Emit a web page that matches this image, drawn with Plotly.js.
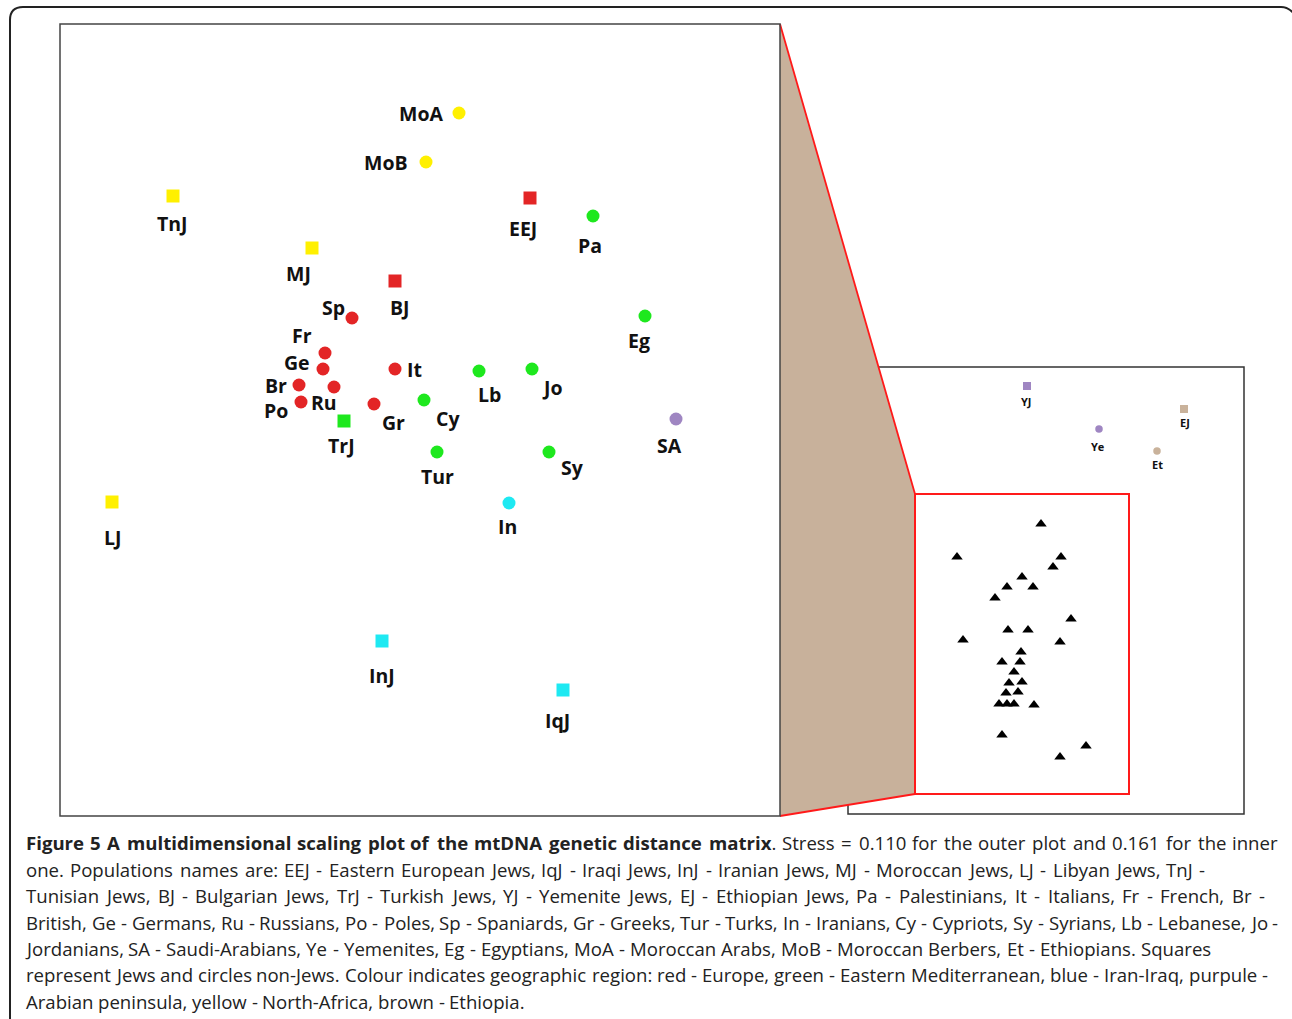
<!DOCTYPE html>
<html><head><meta charset="utf-8">
<script src="https://cdn.plot.ly/plotly-3.0.1.min.js"></script>
<style>html,body{margin:0;padding:0;background:#fff}#chart{width:1292px;height:1019px}</style>
</head><body><div id="chart"></div>
<svg id="meas" width="10" height="10" style="position:absolute;left:-2000px;top:0"><text id="mt" x="0" y="10" style="font-family:'Open Sans';white-space:pre"></text></svg>
<script>
// ---- Outer MDS plot (coordinates in plot units, y up) ----
const outerNames = ['MoA','MoB','TnJ','EEJ','Pa','MJ','BJ','Sp','Eg','Fr','Ge','It','Lb','Jo','Br','Ru','Po','Gr','Cy','TrJ','SA','Tur','Sy','In','LJ','InJ','IqJ'];
const outerX = [399,366,113,470,533,252,335,292,585,265,263,335,419,472,239,274,241,314,364,284,616,377,489,449,52,322,503];
const outerY = [703,654,620,618,600,568,535,498,500,463,447,447,445,447,431,429,414,412,416,395,397,364,364,313,314,175,126];
const outerRegion = ['NAfrica','NAfrica','NAfrica','Europe','EMed','NAfrica','Europe','Europe','EMed','Europe','Europe','Europe','EMed','EMed','Europe','Europe','Europe','Europe','EMed','EMed','Arabia','EMed','EMed','IranIraq','NAfrica','IranIraq','IranIraq'];
const outerJewish = [false,false,true,true,false,true,true,false,false,false,false,false,false,false,false,false,false,false,false,true,false,false,false,false,true,true,true];

// ---- Inner MDS plot ----
const innerNames = ['YJ','Ye','EJ','Et'];
const innerX = [179,251,336,309];
const innerY = [428,385,405,363];
const innerRegion = ['Arabia','Arabia','Ethiopia','Ethiopia'];
const innerJewish = [true,false,true,false];

// ---- Zoomed cluster (triangles) ----
const triX = [193,109,213,205,174,159,185,147,223,160,180,115,212,173,154,172,166,161,174,158,170,151,159,166,186,154,238,212];
const triY = [290,257,257,247,237,227,227,216,195,184,184,174,172,162,152,152,142,131,132,121,122,110,110,110,109,79,68,57];

// ---- Caption ----
const captionBold = 'Figure 5 A multidimensional scaling plot of the mtDNA genetic distance matrix';
const captionLines = [
  '. Stress = 0.110 for the outer plot and 0.161 for the inner',
  'one. Populations names are: EEJ - Eastern European Jews, IqJ - Iraqi Jews, InJ - Iranian Jews, MJ - Moroccan Jews, LJ - Libyan Jews, TnJ -',
  'Tunisian Jews, BJ - Bulgarian Jews, TrJ - Turkish Jews, YJ - Yemenite Jews, EJ - Ethiopian Jews, Pa - Palestinians, It - Italians, Fr - French, Br -',
  'British, Ge - Germans, Ru - Russians, Po - Poles, Sp - Spaniards, Gr - Greeks, Tur - Turks, In - Iranians, Cy - Cypriots, Sy - Syrians, Lb - Lebanese, Jo -',
  'Jordanians, SA - Saudi-Arabians, Ye - Yemenites, Eg - Egyptians, MoA - Moroccan Arabs, MoB - Moroccan Berbers, Et - Ethiopians. Squares',
  'represent Jews and circles non-Jews. Colour indicates geographic region: red - Europe, green - Eastern Mediterranean, blue - Iran-Iraq, purpule -',
  'Arabian peninsula, yellow - North-Africa, brown - Ethiopia.'
];

// ---- styles / layout ----
const regionColor = {Europe:'#e32526',EMed:'#1ee81e',IranIraq:'#1ee9f2',Arabia:'#9f86c2',NAfrica:'#fff000',Ethiopia:'#c9b29b'};
// label offsets in pixels (dx right, dy down)
const labelOff = {MoA:[-38,0],MoB:[-40,0],TnJ:[-1,27],EEJ:[-7,30],Pa:[-3,29],MJ:[-14,25],BJ:[5,26],Sp:[-19,-11],Eg:[-6,24],
  Fr:[-23,-18],Ge:[-26,-7],It:[19,0],Lb:[10,23],Jo:[20,18],Br:[-23,0],Ru:[-10,15],Po:[-25,8],Gr:[19,18],Cy:[24,18],
  TrJ:[-3,24],SA:[-7,26],Tur:[0,24],Sy:[23,15],In:[-2,23],LJ:[0,35],InJ:[0,34],IqJ:[-6,30],
  YJ:[-1,15],Ye:[-1,17],EJ:[1,13],Et:[0,13]};

const W = 1292, H = 1019;
const PX = p => p / W, PY = p => 1 - p / H;

function buildTraces(names, xs, ys, regions, jewish, xa, ya, sqSize, ciSize) {
  const tr = [];
  [true,false].forEach(j => {
    const idx = names.map((n,i)=>i).filter(i => jewish[i] === j);
    tr.push({type:'scatter', mode:'markers', xaxis:xa, yaxis:ya, hoverinfo:'text',
      x: idx.map(i=>xs[i]), y: idx.map(i=>ys[i]), text: idx.map(i=>names[i]),
      marker:{symbol: j ? 'square' : 'circle', size: j ? sqSize : ciSize,
        color: idx.map(i=>regionColor[regions[i]]), line:{width:0}}, cliponaxis:false});
  });
  return tr;
}

async function draw() {
  try { await Promise.all([document.fonts.load('400 18px "Open Sans"'), document.fonts.load('700 18px "Open Sans"')]); } catch(e) {}

  const traces = [
    ...buildTraces(outerNames, outerX, outerY, outerRegion, outerJewish, 'x', 'y', 13, 13),
    ...buildTraces(innerNames, innerX, innerY, innerRegion, innerJewish, 'x2', 'y2', 8, 7.5),
    {type:'scatter', mode:'markers', xaxis:'x2', yaxis:'y2', x: triX, y: triY, hoverinfo:'skip',
     marker:{symbol:'triangle-up', size:10, color:'#000'}, cliponaxis:false}
  ];

  const annotations = [];
  outerNames.forEach((n,i)=>{
    const o = labelOff[n];
    annotations.push({xref:'x', yref:'y', x: outerX[i], y: outerY[i], text: n, showarrow:false, borderpad:0,
      xshift:o[0], yshift:-o[1], font:{family:'Open Sans', size:19.5, color:'#111', weight:700}});
  });
  innerNames.forEach((n,i)=>{
    const o = labelOff[n];
    annotations.push({xref:'x2', yref:'y2', x: innerX[i], y: innerY[i], text: n, showarrow:false, borderpad:0,
      xshift:o[0], yshift:-o[1], font:{family:'Open Sans', size:11, color:'#111', weight:700}});
  });

  // caption: words placed so that each line spans the same width as in the figure
  const CAP_SIZE = 18.6, CAP_L = 26;
  const lineY = [842, 869, 895, 922, 948, 974, 1001];
  const lineEnd = [1278, 1205, 1265, 1278, 1211, 1268, 525];
  const mt = document.getElementById('mt');
  mt.style.fontSize = CAP_SIZE + 'px';
  function measure(t, bold) { mt.style.fontWeight = bold ? '700' : '400'; mt.textContent = t; return mt.getComputedTextLength(); }
  const natural = measure('a a', false) - 2 * measure('a', false);
  captionLines.forEach((line, li) => {
    let words = [];
    if (li === 0) {
      captionBold.split(' ').forEach((w, k, arr) => {
        if (k === arr.length - 1) words.push({parts:[{t:w,b:true},{t:line.split(' ')[0],b:false}]});
        else words.push({parts:[{t:w,b:true}]});
      });
      line.split(' ').slice(1).forEach(w => words.push({parts:[{t:w,b:false}]}));
    } else {
      line.split(' ').forEach(w => words.push({parts:[{t:w,b:false}]}));
    }
    words.forEach(w => w.width = w.parts.reduce((s,p)=>s+measure(p.t,p.b),0));
    const total = words.reduce((s,w)=>s+w.width,0);
    let gap = (lineEnd[li] - CAP_L - total) / (words.length - 1);
    gap = Math.max(natural * 0.8, Math.min(gap, natural * 2.2));
    let x = CAP_L;
    words.forEach(w => {
      const txt = w.parts.map(p => p.b ? '<b>' + p.t + '</b>' : p.t).join('');
      annotations.push({xref:'paper', yref:'paper', x: PX(x + w.width / 2), y: PY(lineY[li]), xanchor:'center', yanchor:'middle',
        text: txt, showarrow:false, align:'center', borderpad:0, borderwidth:0, font:{family:'Open Sans', size:CAP_SIZE, color:'#222'}});
      x += w.width + gap;
    });
  });
  document.getElementById('meas').remove();

  const hidden = {showgrid:false, zeroline:false, showticklabels:false, ticks:'', showline:false, fixedrange:true};
  const shapes = [
    {type:'path', xref:'paper', yref:'paper', layer:'below',
     path:`M${PX(10)},${PY(1030)} L${PX(10)},${PY(20)} Q${PX(10)},${PY(7)} ${PX(23)},${PY(7)} L${PX(1281)},${PY(7)} Q${PX(1289)},${PY(7)} ${PX(1295)},${PY(15)}`,
     line:{color:'#222', width:2}},
    {type:'rect', xref:'paper', yref:'paper', layer:'below', x0:PX(848), x1:PX(1244), y0:PY(814), y1:PY(367), line:{color:'#333', width:1.5}},
    {type:'path', xref:'paper', yref:'paper', layer:'below',
     path:`M${PX(780)},${PY(24)} L${PX(915)},${PY(494)} L${PX(915)},${PY(794)} L${PX(780)},${PY(816)} Z`,
     fillcolor:'#c8b19b', line:{width:0}},
    {type:'line', xref:'paper', yref:'paper', layer:'below', x0:PX(780), y0:PY(24), x1:PX(915), y1:PY(494), line:{color:'#ff1a1a', width:1.8}},
    {type:'line', xref:'paper', yref:'paper', layer:'below', x0:PX(780), y0:PY(816), x1:PX(915), y1:PY(794), line:{color:'#ff1a1a', width:1.8}},
    {type:'rect', xref:'paper', yref:'paper', layer:'below', x0:PX(60), x1:PX(780), y0:PY(816), y1:PY(24), line:{color:'#444', width:1.5}},
    {type:'rect', xref:'paper', yref:'paper', layer:'below', x0:PX(915), x1:PX(1129), y0:PY(794), y1:PY(494), line:{color:'#ff1a1a', width:2}}
  ];

  const layout = {
    width: W, height: H, margin:{l:0,r:0,t:0,b:0},
    paper_bgcolor:'#fff', plot_bgcolor:'rgba(0,0,0,0)', showlegend:false,
    xaxis: Object.assign({domain:[PX(60), PX(780)], range:[0,720], anchor:'y'}, hidden),
    yaxis: Object.assign({domain:[PY(816), PY(24)], range:[0,792], anchor:'x'}, hidden),
    xaxis2: Object.assign({domain:[PX(848), PX(1244)], range:[0,396], anchor:'y2'}, hidden),
    yaxis2: Object.assign({domain:[PY(814), PY(367)], range:[0,447], anchor:'x2'}, hidden),
    shapes, annotations
  };
  await Plotly.newPlot('chart', traces, layout, {displayModeBar:false, staticPlot:true});
}
draw();
</script></body></html>
